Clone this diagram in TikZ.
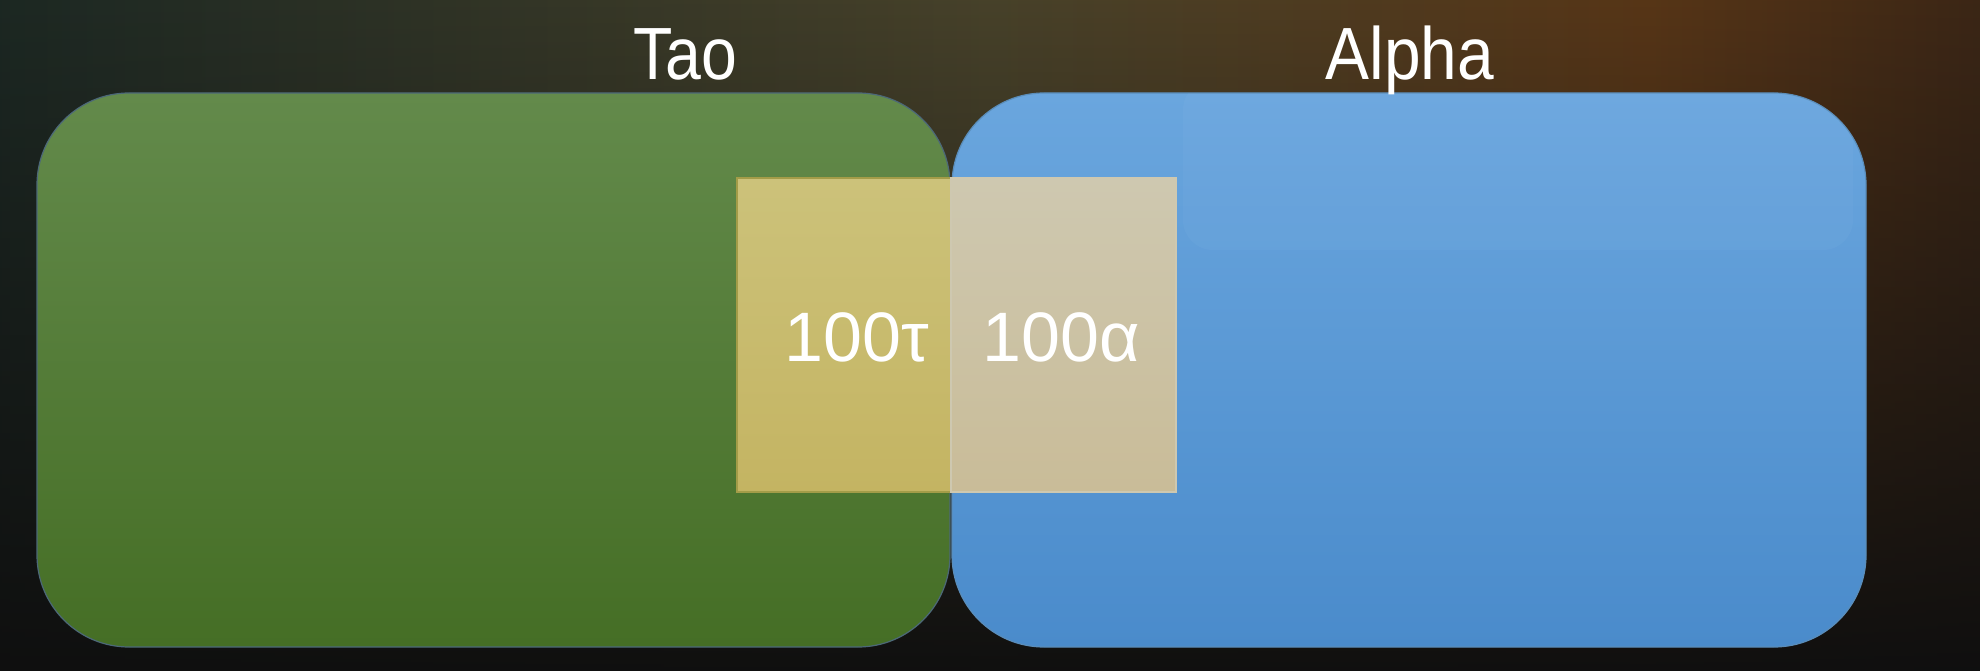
\documentclass[tikz,border=0pt]{standalone}
\usepackage{fontspec}
\setmainfont{Liberation Sans}
\usetikzlibrary{fadings}

\definecolor{bgleft}{HTML}{1C2823}
\definecolor{bgmid}{HTML}{48422A}
\definecolor{bgright}{HTML}{583617}
\definecolor{bgedge}{HTML}{3B2616}
\definecolor{bgdark}{HTML}{0F0F0F}
\definecolor{taotop}{HTML}{638A4B}
\definecolor{taobottom}{HTML}{456E25}
\definecolor{taoline}{HTML}{4C6878}
\definecolor{alphatop}{HTML}{6AA6DE}
\definecolor{alphabottom}{HTML}{4A8BCB}
\definecolor{alphaline}{HTML}{5A8DBA}
\definecolor{bothtaotop}{HTML}{CCC27A}
\definecolor{bothtaobottom}{HTML}{C4B462}
\definecolor{bothalphatop}{HTML}{CEC8B0}
\definecolor{bothalphabottom}{HTML}{C9BC98}
\definecolor{bothline}{HTML}{A39C48}

\tikzfading[name=darkdown, top color=transparent!100, middle color=transparent!45, bottom color=transparent!0]

\begin{document}
\begin{tikzpicture}[x=0.5pt,y=0.5pt,
  setbox/.style={rounded corners=46pt, line width=0.6pt},
  bothbox/.style={line width=0.6pt},
  setname/.style={text=white, font=\fontsize{37}{40}\selectfont, anchor=base, inner sep=0pt},
  countlabel/.style={text=white, font=\fontsize{35}{38}\selectfont, anchor=base, inner sep=0pt}]
\useasboundingbox (0,0) rectangle (1980,670);

\shade[left color=bgleft, right color=bgmid] (-10,-10) rectangle (990,680);
\shade[left color=bgmid, right color=bgright] (990,-10) rectangle (1650,680);
\shade[left color=bgright, right color=bgedge] (1650,-10) rectangle (1990,680);
\fill[bgdark, path fading=darkdown] (-10,-10) rectangle (1990,680);

\shadedraw[setbox, top color=taotop, bottom color=taobottom, draw=taoline] (37,23) rectangle (950,577);
\shadedraw[setbox, top color=alphatop, bottom color=alphabottom, draw=alphaline] (952,23) rectangle (1866,577);
\begin{scope}
  \clip[rounded corners=46pt] (952,23) rectangle (1866,577);
  \fill[white, opacity=0.03, rounded corners=15pt] (1183,420) rectangle (1853,590);
\end{scope}

\shadedraw[bothbox, top color=bothtaotop, bottom color=bothtaobottom, draw=bothline] (737,178) rectangle (951,492);
\shadedraw[bothbox, top color=bothalphatop, bottom color=bothalphabottom, draw=bothalphatop] (951,178) rectangle (1176,492);

\node[setname] (tao) at (685,590) {\scalebox{0.87}[1]{Tao}};
\node[setname] (alpha) at (1410,590) {\scalebox{0.89}[1]{Alpha}};
\node[countlabel] (taocount) at (857,308) {100τ};
\node[countlabel] (alphacount) at (1061,308) {100α};
\end{tikzpicture}
\end{document}
